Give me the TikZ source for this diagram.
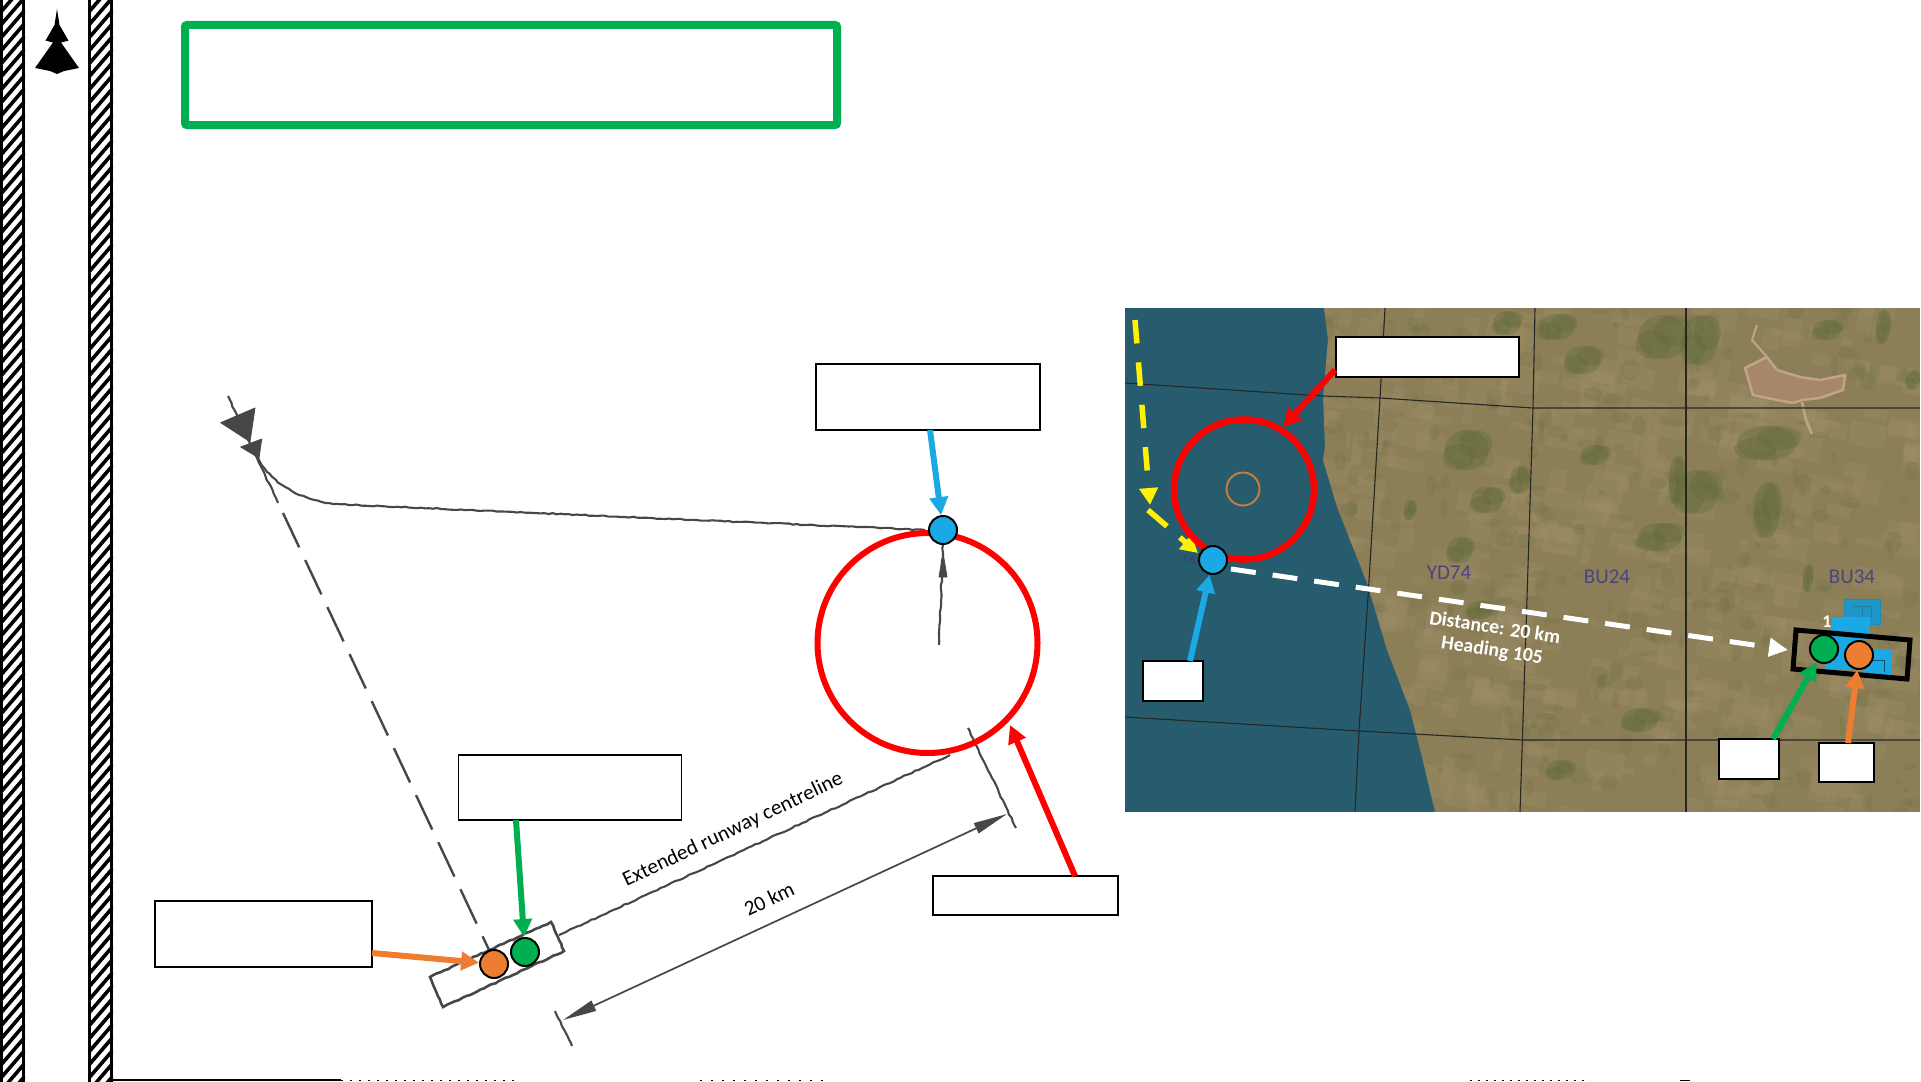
\documentclass[tikz,border=0pt]{standalone}
\usepackage{fontspec}
\setmainfont{Carlito}
\usetikzlibrary{arrows.meta,decorations.pathmorphing}

\definecolor{oblue}{HTML}{1BA9E6}
\definecolor{ogreen}{HTML}{00B050}
\definecolor{oorange}{HTML}{ED7D31}
\definecolor{water}{HTML}{265C6E}
\definecolor{land}{HTML}{8C7F58}
\definecolor{landlight}{HTML}{A8966F}
\definecolor{landdark}{HTML}{5F6A3A}
\definecolor{saltpan}{HTML}{A8866A}
\definecolor{saltedge}{HTML}{BFA585}
\definecolor{gridlabel}{HTML}{3B3487}

\tikzset{
  labelbox/.style={draw=black, fill=white, line width=1.5pt, inner sep=0pt},
  dot/.style={circle, draw=black, line width=2pt, minimum size=28pt, inner sep=0pt},
  callout/.style={line width=6pt, -{Triangle[length=18pt,width=18pt]}},
  sketch/.style={draw=black!72, line width=2.1pt, decorate,
    decoration={random steps, segment length=4pt, amplitude=.6pt}},
  sketchfill/.style={fill=black!72, draw=black!72, line width=.8pt, line join=round},
  mapgrid/.style={draw=black!85, line width=1.1pt},
  woods/.style={fill=landdark, opacity=.36},
  gridname/.style={text=gridlabel, opacity=.8, font=\fontsize{21}{21}\selectfont},
  whitelabel/.style={text=white, font=\bfseries\fontsize{19.8}{19.8}\selectfont, rotate=-8.5},
  sketchlabel/.style={font=\fontsize{21.2}{21.2}\selectfont, rotate=25.4},
}

\newcommand\hatchbar[2]{
  \begin{scope}
    \clip (#1,0) rectangle (#2,1081);
    \foreach \ystep in {0,13,...,1131}
      \draw [black, line width=3.6pt] (#1,\ystep) -- (#2,\ystep-29);
  \end{scope}
  \draw [black, line width=3.5pt] (#1+1.7,-3) rectangle (#2-1.7,1084);
}

\begin{document}
\begin{tikzpicture}[x=1pt,y=-1pt]
\useasboundingbox (0,0) rectangle (1921,1081);

% side bars and aircraft
\hatchbar{0}{25}
\hatchbar{88}{113}
\fill [black] (57,9)--(59.5,25)--(68.5,40.7)--(61,42.5)--(79,68)--(64,71)--(57,74)--(50,71)--(35,68)--(53,42.5)--(45.5,40.7)--(54.5,25)--cycle;
\draw [black, line width=1.5pt] (112,1080)--(341,1080);
\draw [black, line width=1pt, dash pattern=on 2pt off 7pt] (341,1080.5)--(520,1080.5);
\draw [black, line width=1pt, dash pattern=on 2pt off 9pt] (700,1080.5)--(830,1080.5);
\draw [black, line width=1pt, dash pattern=on 2pt off 6pt] (1470,1080.5)--(1590,1080.5);
\draw [black, line width=1pt] (1680,1080.5)--(1690,1080.5);

% title frame
\node (titleframe) [draw=ogreen, line width=8pt, rounded corners=2pt, minimum width=652pt, minimum height=100pt, inner sep=0pt] at (511,75) {};

% ---- map on the right ----
\fill [water] (1125,308) rectangle (1920,812);
\begin{scope}
  \clip (1324,308)--(1328,340)--(1323,397)--(1325,447)--(1323,460)--(1337,507)--(1350,540)--(1367,583)--(1387,650)--(1410,710)--(1422,757)--(1435,812)--(1920,812)--(1920,308)--cycle;
  \fill [land] (1300,300) rectangle (1920,812);
  \pgfmathsetseed{11}
  % field texture
  \foreach \i in {1,...,420}{
    \pgfmathsetmacro\bx{1320+600*rnd}
    \pgfmathsetmacro\by{308+504*rnd}
    \pgfmathsetmacro\bw{4+16*rnd}
    \pgfmathsetmacro\bh{3+11*rnd}
    \fill [landlight, opacity=.2, rotate around={-10:(\bx,\by)}] (\bx-\bw,\by-\bh) rectangle (\bx+\bw,\by+\bh);
  }
  \foreach \i in {1,...,320}{
    \pgfmathsetmacro\bx{1320+600*rnd}
    \pgfmathsetmacro\by{308+504*rnd}
    \pgfmathsetmacro\bw{2+9*rnd}
    \pgfmathsetmacro\bh{2+9*rnd}
    \fill [landdark, opacity=.16] (\bx,\by) ellipse ({\bw} and {\bh});
  }
  % darker woods
  \foreach \bx/\by/\rx/\ry in {1663/337/25/22,1700/340/18/25,1583/360/18/14,1557/327/18/13,1767/443/30/17,1697/492/22/22,1677/480/8/24,1595/455/14/10,1660/537/22/14,1520/480/10/14,1767/510/13/28,1883/327/7/17,1827/330/14/10,1808/578/5/14,1913/380/7/10,1467/450/22/20,1487/500/16/13,1410/510/6/10,1507/323/14/12,1460/550/13/13,1640/720/18/12,1560/770/14/10,1480/610/14/9}{
    \fill [woods] (\bx,\by) ellipse ({\rx} and {\ry});
    \fill [woods] (\bx+.4*\rx,\by-.3*\ry) ellipse ({.75*\rx} and {.7*\ry});
    \fill [woods] (\bx-.4*\rx,\by+.35*\ry) ellipse ({.7*\rx} and {.65*\ry});
  }
  % salt pan
  \filldraw [fill=saltpan, draw=saltedge, line width=2.5pt, line join=round] (1745,368)--(1767,357)--(1777,370)--(1800,377)--(1820,380)--(1845,375)--(1843,390)--(1820,398)--(1802,400)--(1793,403)--(1767,398)--(1753,395)--cycle;
  \draw [saltedge, line width=2.5pt] (1802,402)--(1806,420)--(1812,434);
  \draw [saltedge, line width=2pt] (1767,357)--(1752,340)--(1757,325);
\end{scope}

% map grid
\draw [mapgrid] (1125,383)--(1323,396)--(1380,398)--(1533,408)--(1920,408);
\draw [mapgrid] (1125,717)--(1360,731)--(1523,740)--(1920,740);
\draw [mapgrid] (1385,308)--(1380,398)--(1368,597)--(1359,731)--(1355,812);
\draw [mapgrid] (1535,308)--(1533,408)--(1527,598)--(1520,812);
\draw [mapgrid] (1686,308)--(1686,812);
\node (ydname) [gridname] at (1449,573) {YD74};
\node (bumid) [gridname] at (1607,577) {BU24};
\node (buright) [gridname] at (1852,577) {BU34};
\node (tpname) [text=gridlabel, opacity=.8, font=\fontsize{13}{13}\selectfont] at (1189,560) {T6};

% airbase symbols
\draw [fill=oblue!75!water, draw=oblue!60!water, line width=1pt] (1844,599) rectangle (1880,624);
\draw [oblue!40!water, line width=1pt] (1853,606)--(1871,606)--(1871,618) (1862,606)--(1862,618);
\fill [oblue] (1832,617) rectangle (1870,640);
\fill [oblue] (1825,637) rectangle (1863,670);
\fill [oblue] (1863,650) rectangle (1892,677);
\draw [oblue!50!black, line width=.8pt] (1872,660)--(1884,660)--(1884,672);
\node (basenum) [text=white, font=\bfseries\fontsize{18}{18}\selectfont] at (1827,622) {1};

% approach on the map
\coordinate (yellowstart) at (1135,320);
\coordinate (yellowturn) at (1150,505);
\coordinate (yellowbend) at (1148,510);
\coordinate (yellowend) at (1198,553);
\draw [yellow, line width=5.5pt, dash pattern=on 23.5pt off 19pt, -{Triangle[length=17pt,width=18pt]}] (yellowstart)--(yellowturn);
\draw [yellow, line width=5.5pt, dash pattern=on 25pt off 17pt, -{Triangle[length=17pt,width=18pt]}] (yellowbend)--(yellowend);

% turn circle on the map
\node (mapturn) [circle, draw=red, line width=6.5pt, minimum size=140pt, inner sep=0pt] at (1244,489.5) {};
\node (mapcentre) [circle, draw=brown!85!orange, line width=1.9pt, minimum size=33pt, inner sep=0pt] at (1243,489) {};
\node (mapbluedot) [dot, fill=oblue] at (1213,560) {};

% leg to the target
\coordinate (whitestart) at (1231,569);
\coordinate (whiteend) at (1788,650);
\draw [white, line width=5pt, dash pattern=on 25pt off 17pt, -{Triangle[length=19pt,width=18pt]}] (whitestart)--(whiteend);
\node (distlabel) [whitelabel] at (1495,627) {Distance: 20 km};
\node (headlabel) [whitelabel] at (1492,651) {Heading 105};

% target on the map
\draw [black, line width=5pt] (1796,630)--(1910,640)--(1907,679)--(1793,669)--cycle;
\node (mapgreendot) [dot, fill=ogreen] at (1824,649) {};
\node (maporangedot) [dot, fill=oorange] at (1859,655) {};

% map labels
\node (mapredbox) [labelbox, minimum width=183pt, minimum height=40pt] at (1427.5,357) {};
\node (mapbluebox) [labelbox, minimum width=60pt, minimum height=40pt] at (1173,681) {};
\node (mapgreenbox) [labelbox, minimum width=60pt, minimum height=40pt] at (1749,759) {};
\node (maporangebox) [labelbox, minimum width=55pt, minimum height=39pt] at (1846.5,762.5) {};

\coordinate (mapredstart) at (1335,370);
\coordinate (mapredtip) at (1283,427);
\coordinate (mapbluestart) at (1190,661);
\coordinate (mapgreenstart) at (1773,739);
\coordinate (maporangestart) at (1848,743);
\draw [callout, red] (mapredstart)--(mapredtip);
\draw [callout, oblue] (mapbluestart)--(mapbluedot);
\draw [callout, ogreen] (mapgreenstart)--(mapgreendot);
\draw [callout, oorange] (maporangestart)--(maporangedot);

% ---- sketch on the left ----
% inbound leg
\coordinate (legstart) at (228,396);
\coordinate (legbreak) at (278,503);
\coordinate (legdash) at (283,513);
\coordinate (legend) at (490,952);
\draw [sketch] (legstart)--(legbreak);
\draw [black!72, line width=2.4pt, dash pattern=on 38pt off 14pt] (legdash)--(legend);

% arrow heads of the leg
\fill [sketchfill] (220.7,422.7)--(255,408)--(250,441.7)--cycle;
\fill [sketchfill] (240.7,447)--(261.7,439)--(259,458)--cycle;

% line to the initial point
\coordinate (curvetip) at (258,458);
\coordinate (curveflat) at (333,504);
\coordinate (curvejoin) at (925,530);
\draw [sketch] (curvetip) .. controls (272,484) and (298,498) .. (curveflat)--(curvejoin);

% run in
\coordinate (runtop) at (943,545);
\coordinate (runbottom) at (939,645);
\draw [sketch] (runtop)--(runbottom);
\fill [sketchfill] (943,553)--(947,577)--(939,577)--cycle;

% runway and centreline
\draw [sketch, line width=2.6pt] (430,977)--(551,922)--(564,951)--(443,1007)--cycle;
\coordinate (clstart) at (559,935);
\coordinate (clend) at (950,755);
\draw [sketch] (clstart)--(clend);

% distance
\coordinate (tickaup) at (555,1011);
\coordinate (tickadown) at (572,1046);
\coordinate (tickbup) at (968,728);
\coordinate (tickbdown) at (1016,828);
\coordinate (disttipa) at (563,1020);
\coordinate (disttipb) at (1007,814);
\draw [sketch] (tickaup)--(tickadown);
\draw [sketch] (tickbup)--(tickbdown);
\draw [black!72, line width=1.7pt, {Triangle[length=34pt,width=11pt]}-{Triangle[length=34pt,width=11pt]}] (disttipa)--(disttipb);

\node (extlabel) [sketchlabel] at (733,830) {Extended runway centreline};
\node (kmlabel) [sketchlabel] at (769,899) {20 km};

% turn circle
\node (turn) [circle, draw=red, line width=6pt, minimum size=220pt, inner sep=0pt] at (927.5,643) {};
\node (bluedot) [dot, fill=oblue] at (943,530) {};
\node (greendot) [dot, fill=ogreen] at (525,952) {};
\node (orangedot) [dot, fill=oorange] at (494,964) {};

% labels
\node (bluebox) [labelbox, minimum width=224pt, minimum height=66pt] at (928,397) {};
\node (greenbox) [labelbox, minimum width=223pt, minimum height=65pt] at (570,787.5) {};
\node (orangebox) [labelbox, minimum width=217pt, minimum height=66pt] at (263.5,934) {};
\node (redbox) [labelbox, minimum width=185pt, minimum height=39pt] at (1025.5,895.5) {};

\coordinate (bluestart) at (930,430);
\coordinate (greenstart) at (516,820);
\coordinate (orangestart) at (372,953);
\coordinate (redstart) at (1075,876);
\coordinate (redtip) at (1010,725);
\draw [callout, oblue] (bluestart)--(bluedot);
\draw [callout, ogreen] (greenstart)--(greendot);
\draw [callout, oorange] (orangestart)--(orangedot);
\draw [callout, red] (redstart)--(redtip);

\end{tikzpicture}
\end{document}
